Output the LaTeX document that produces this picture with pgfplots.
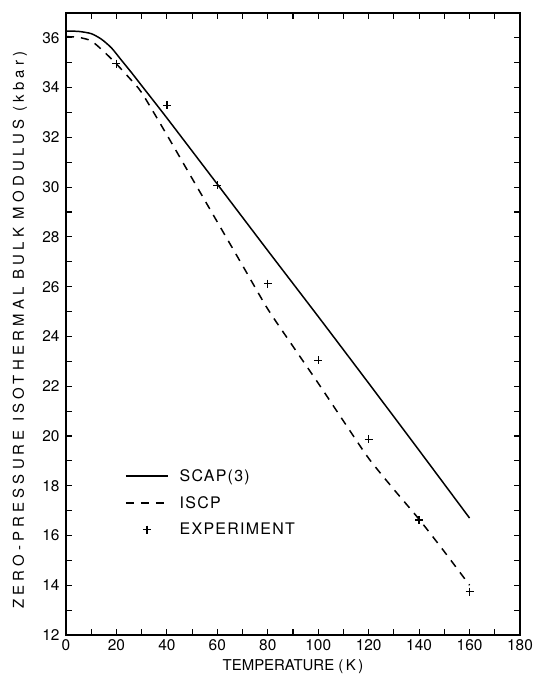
\documentclass[border=0pt]{standalone}
\usepackage{fontspec}
\setmainfont{TeX Gyre Heros}
\newfontfamily\wide[LetterSpace=28]{TeX Gyre Heros}
\newfontfamily\keyfont[LetterSpace=8]{TeX Gyre Heros}
\usepackage{pgfplots}
\pgfplotsset{compat=1.18}
\pgfplotsset{
  curve key/.style={legend image code/.code={\draw[##1] (0bp,0bp) -- (42bp,0bp);}},
  point key/.style={legend image code/.code={\draw[##1] plot coordinates {(21bp,0bp)};}},
}

\begin{document}
\begin{tikzpicture}
\useasboundingbox (-66bp,-40bp) rectangle (473bp,635bp);
\begin{axis}[
  at={(0,0)}, anchor=south west,
  scale only axis, width=454bp, height=622bp,
  xmin=0, xmax=180, ymin=12, ymax=37,
  xtick={0,20,...,180}, minor xtick={10,30,...,170},
  ytick={12,14,...,36}, minor ytick={13,15,...,35},
  tick align=inside, major tick length=6bp, minor tick length=6bp,
  every tick/.style={line width=1.1pt, black},
  axis line style={line width=1.1pt},
  /pgf/number format/assume math mode=true,
  ticklabel style={font=\fontsize{15.5}{17}\selectfont},
  xticklabel style={yshift=-1bp},
  yticklabel style={xshift=-3bp},
  xlabel={TEMPERATURE (\,K\,)},
  ylabel={\wide ZERO-PRESSURE ISOTHERMAL BULK MODULUS (kbar)},
  label style={font=\fontsize{15}{17}\selectfont},
  xlabel style={at={(axis description cs:0.5,0)}, anchor=center, yshift=-32bp},
  ylabel style={at={(axis description cs:0,0.49)}, anchor=center, yshift=46bp},
  legend style={at={(axis description cs:0.13,0.270)}, anchor=north west,
    draw=none, fill=none, font=\keyfont\fontsize{16}{18}\selectfont,
    row sep=9.5bp, inner sep=0pt,
    /tikz/every odd column/.append style={column sep=9bp}},
  legend cell align=left,
  curve key,
]
% SCAP(3)
\addplot[black, line width=1.5pt, smooth, tension=0.4] coordinates {
  (0,36.27) (5,36.26) (10,36.17) (14,35.95) (18,35.6) (22,35.1) (26,34.6)
  (30,34.08) (40,32.78) (60,30.12) (80,27.45) (100,24.8) (120,22.12)
  (140,19.42) (160,16.7)
};
\addlegendentry{SCAP(3)}
% ISCP
\addplot[black, line width=1.5pt, dash pattern=on 8bp off 7bp, smooth, tension=0.4] coordinates {
  (0,36.05) (5,36.02) (10,35.88) (15,35.45) (20,34.95) (25,34.4) (30,33.8)
  (40,32.1) (50,30.35) (60,28.6) (70,26.85) (80,25.1) (90,23.6)
  (100,22.12) (110,20.6) (120,19.1) (130,17.85) (140,16.65) (150,15.35)
  (160,14.0)
};
\addlegendentry{ISCP}
% experiment
\addplot[black, only marks, mark=+, mark size=4bp, line width=1.3pt, point key] coordinates {
  (20,34.96) (40,33.29) (60,30.07) (80,26.12) (100,23.04) (120,19.86)
  (140,16.62) (160,13.74)
};
\addlegendentry{EXPERIMENT}
\end{axis}
\end{tikzpicture}
\end{document}
